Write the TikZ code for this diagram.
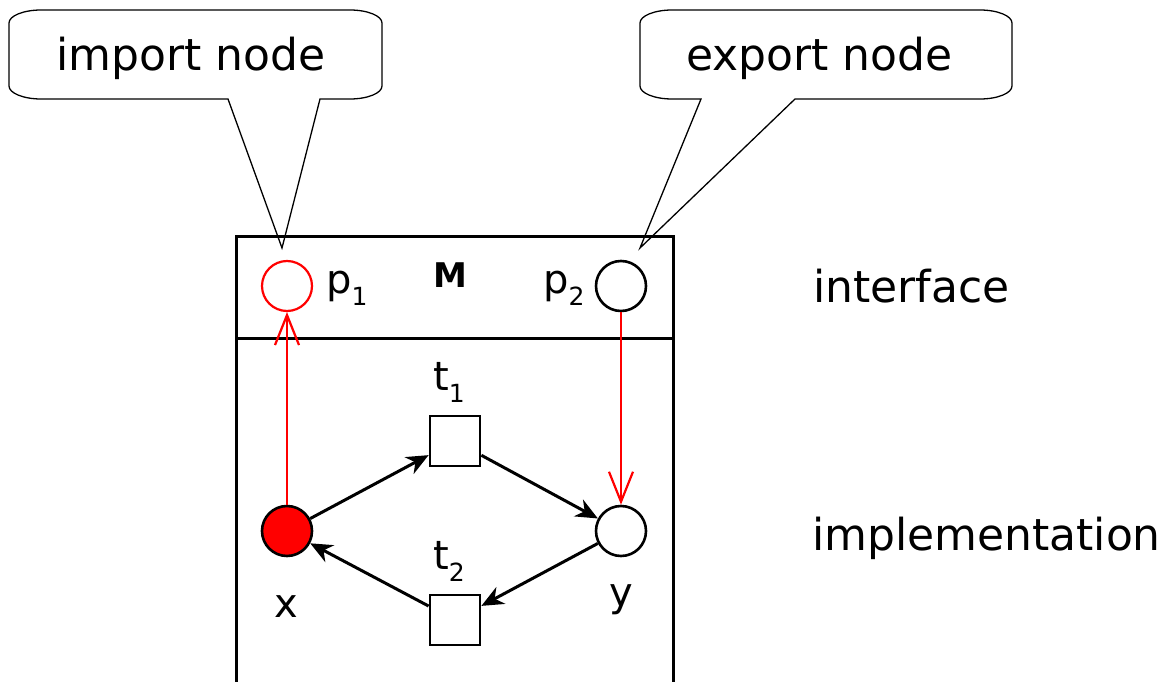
\documentclass[tikz,border=0pt]{standalone}
\usepackage{fontspec}
\setmainfont{DejaVu Sans}
\usetikzlibrary{arrows.meta}
\newcommand\mysub[1]{\raisebox{-12pt}{\fontsize{25}{25}\selectfont #1}}
\begin{document}
\begin{tikzpicture}[x=1pt,y=-1pt,
  big/.style={font=\fontsize{44}{50}\selectfont, inner sep=0, anchor=base west},
  lbl/.style={font=\fontsize{40}{46}\selectfont, inner sep=0, anchor=base west},
  place/.style={circle, draw, line width=2.6pt, minimum size=50pt, inner sep=0},
  trans/.style={rectangle, draw, line width=2.8pt, minimum size=50pt, inner sep=0},
  arcb/.style={line width=3pt, -{Stealth[length=22pt,width=19pt,inset=7pt]}},
  arcr/.style={red, line width=2.2pt, -{Straight Barb[length=30pt,width=24pt]}},
  callout/.style={line width=1.3pt},
  modbox/.style={line width=3pt}]
\useasboundingbox (0,0) rectangle (1172,682);

% callouts
\coordinate (imptip) at (282,248);
\coordinate (exptip) at (640,248);
\draw[callout] (228,99) -- (imptip) -- (320,99) -- (350,99) .. controls (367.6,99) and (382,93.15) .. (382,86) -- (382,23) .. controls (382,15.85) and (367.6,10) .. (350,10) -- (41,10) .. controls (23.4,10) and (9,15.85) .. (9,23) -- (9,86) .. controls (9,93.15) and (23.4,99) .. (41,99) -- cycle;
\draw[callout] (795,99) -- (exptip) -- (701,99) -- (672,99) .. controls (654.4,99) and (640,93.15) .. (640,86) -- (640,23) .. controls (640,15.85) and (654.4,10) .. (672,10) -- (980,10) .. controls (997.6,10) and (1012,15.85) .. (1012,23) -- (1012,86) .. controls (1012,93.15) and (997.6,99) .. (980,99) -- cycle;
\node[big] (imp) at (56,71) {import node};
\node[big] (exp) at (686,71) {export node};

% module box
\draw[modbox] (236,690) -- (236,236) -- (673,236) -- (673,690);
\draw[modbox] (236,338) -- (673,338);
\node[font=\fontsize{34}{40}\selectfont\bfseries, inner sep=0, anchor=base] (M) at (450,287) {M};

\node[big] (intf) at (813,302) {interface};
\node[big] (impl) at (812,550) {implementation};

% places and transitions
\node[place, draw=red, line width=2.2pt] (p1) at (287,286) {};
\node[place] (p2) at (621,286) {};
\node[place, fill=red] (x) at (287,531) {};
\node[place] (y) at (621,531) {};
\node[trans] (t1) at (455,441) {};
\node[trans] (t2) at (455,620) {};

% labels
\node[lbl] (lp1) at (326,293) {p\mysub{1}};
\node[lbl] (lp2) at (543,293) {p\mysub{2}};
\node[lbl] (lt1) at (433,390) {t\mysub{1}};
\node[lbl] (lt2) at (433,569) {t\mysub{2}};
\node[lbl, anchor=base] (lx) at (286,617) {x};
\node[lbl, anchor=base] (ly) at (621,606) {y};

% arcs
\draw[arcb] (x) -- (t1);
\draw[arcb] (t1) -- (y);
\draw[arcb] (y) -- (t2);
\draw[arcb] (t2) -- (x);
\draw[arcr] (x) -- (p1);
\draw[arcr] (p2) -- (y);
\end{tikzpicture}
\end{document}
